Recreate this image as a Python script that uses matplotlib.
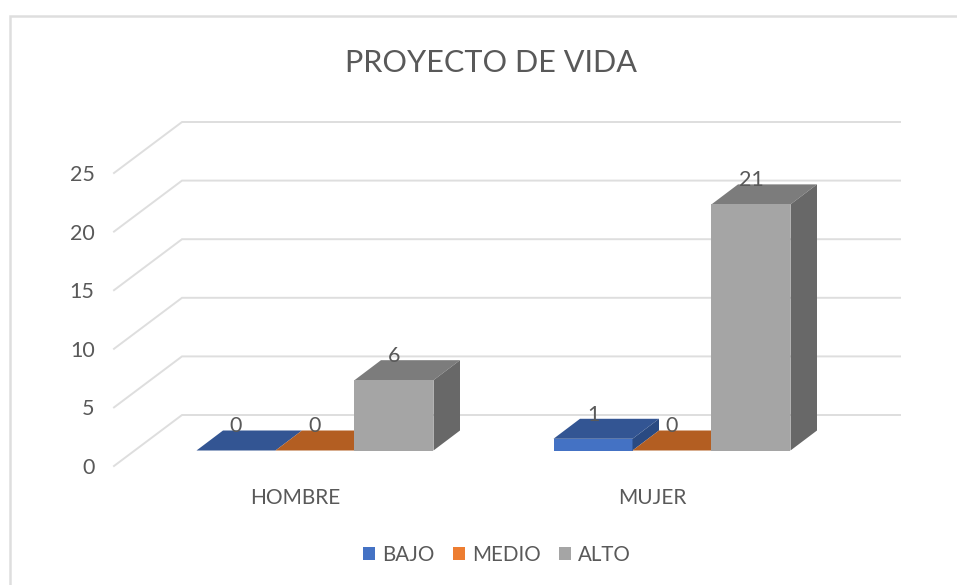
import matplotlib
matplotlib.use("Agg")
import matplotlib.pyplot as plt
from matplotlib.lines import Line2D
from matplotlib.patches import Patch
from matplotlib.transforms import ScaledTranslation

categories = ["HOMBRE", "MUJER"]
bajo = [0, 1]
medio = [0, 0]
alto = [6, 21]
yticks = [0, 5, 10, 15, 20, 25]

W, H = 957, 585
plt.rcParams["font.family"] = ["Lato", "DejaVu Sans"]
TEXT = "#595959"
GRID = "#DEDEDE"

fig = plt.figure(figsize=(W / 100, H / 100), dpi=100, facecolor="white")
# axes box is the front wall bottom up to the top back gridline
left, right, bottom, top = 114, 900, 466, 122
ax = fig.add_axes([left / W, 1 - bottom / H, (right - left) / W, (bottom - top) / H])
ax.patch.set_alpha(0)
for s in ax.spines.values():
    s.set_visible(False)

px_cat = 357.0   # pixels per category
px_val = 11.72   # pixels per value
ax.set_xlim((left - 315) / px_cat, (right - 315) / px_cat)
ax.set_ylim(0, (bottom - top) / px_val)

wall_dx = 68 / px_cat
wall_dy = 51 / px_val
x0 = ax.get_xlim()[0]
x1 = ax.get_xlim()[1]

# gridlines: flat on the back wall, diagonal on the side wall
for v in yticks:
    ax.plot([x0, x0 + wall_dx, x1], [v, v + wall_dy, v + wall_dy], color=GRID, lw=1.4, zorder=1,
            solid_joinstyle="miter", clip_on=False)

bar_w = 79 / px_cat
floor_dy = 15.5 / px_val   # bar front sits this far into the floor
depth_x = 26.5 / px_cat
depth_y = 20 / px_val

series = [
    ("BAJO", bajo, "#4472C4", "#335593", "#2A4A82", -1),
    ("MEDIO", medio, "#ED7D31", "#B35E22", "#8F4B1B", 0),
    ("ALTO", alto, "#A5A5A5", "#7C7C7C", "#686868", 1),
]

z = 2
for name, vals, c_front, c_top, c_side, pos in series:
    for i, v in enumerate(vals):
        xa = i + pos * bar_w - bar_w / 2
        xb = xa + bar_w
        y0 = floor_dy
        y1 = floor_dy + v
        ax.fill([xa, xb, xb + depth_x, xa + depth_x], [y1, y1, y1 + depth_y, y1 + depth_y],
                color=c_top, lw=0, zorder=z)
        if v > 0:
            ax.bar(xa, v, bar_w, bottom=y0, align="edge", color=c_front, lw=0, zorder=z)
            ax.fill([xb, xb + depth_x, xb + depth_x, xb], [y0, y0 + depth_y, y1 + depth_y, y1],
                    color=c_side, lw=0, zorder=z)
        ax.annotate(str(v), (i + pos * bar_w, y1), xytext=(0, 24 * 0.72), textcoords="offset points",
                    ha="center", va="center", fontsize=15.5, color=TEXT, zorder=10)
        z += 1

ax.set_yticks(yticks)
ax.set_yticklabels([str(v) for v in yticks])
ax.set_xticks(range(len(categories)))
ax.set_xticklabels(categories)
ax.tick_params(axis="y", length=0, pad=14, labelsize=15.5, labelcolor=TEXT)
ax.tick_params(axis="x", length=0, pad=16, labelsize=15, labelcolor=TEXT)
for lab in ax.get_xticklabels():
    lab.set_transform(lab.get_transform() + ScaledTranslation(-20 / 100, 0, fig.dpi_scale_trans))

fig.text(491 / W, 1 - 63 / H, "PROYECTO DE VIDA", ha="center", va="center", fontsize=22.1, color=TEXT)

handles = [Patch(facecolor=s[2], edgecolor="none", label=s[0]) for s in series]
fig.legend(handles=handles, loc="center", bbox_to_anchor=(497 / W, 1 - 555 / H), ncol=3, frameon=False,
           fontsize=14.8, labelcolor=TEXT, handlelength=0.58, handleheight=0.58, handletextpad=0.34,
           columnspacing=0.92)

# chart frame: left and top edges only, the right side is cropped off
fig.add_artist(Line2D([10 / W, 10 / W, 1], [0, 1 - 16 / H, 1 - 16 / H], transform=fig.transFigure,
                      color=GRID, lw=1.8, solid_joinstyle="miter"))

fig.savefig("out.png", dpi=100)
